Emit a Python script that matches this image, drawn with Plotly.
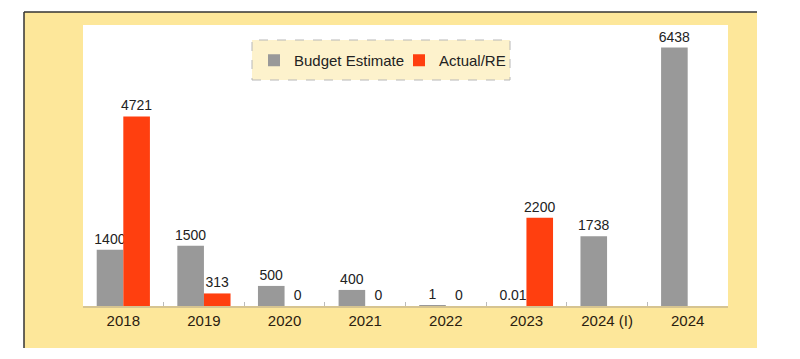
import plotly.graph_objects as go

categories = ["2018", "2019", "2020", "2021", "2022", "2023", "2024 (I)", "2024"]
budget_estimate = [1400, 1500, 500, 400, 1, 0.01, 1738, 6438]
actual_re = [4721, 313, 0, 0, 0, 2200, None, None]
budget_labels = ["1400", "1500", "500", "400", "1", "0.01", "1738", "6438"]
actual_labels = ["4721", "313", "0", "0", "0", "2200", "", ""]

# page has an 8px body margin; figure placed at (8, 8)
OFF = 8
W, H = 800 - OFF, 359 - OFF
L, R, T, B = 83 - OFF, 800 - 728, 25 - OFF, 359 - 306
pw, ph = W - L - R, H - T - B


def px(x):
    return (x - OFF - L) / pw


def py(y):
    return (H - B - (y - OFF)) / ph


fig = go.Figure()
fig.add_trace(go.Bar(
    x=categories, y=budget_estimate, name="Budget Estimate",
    marker=dict(color="#999999", line=dict(width=0)),
    text=budget_labels, textposition="outside", cliponaxis=False, constraintext="none",
    textfont=dict(size=14, color="#222222"),
))
fig.add_trace(go.Bar(
    x=categories, y=actual_re, name="Actual/RE",
    marker=dict(color="#FF3F0F", line=dict(width=0)),
    text=actual_labels, textposition="outside", cliponaxis=False, constraintext="none",
    textfont=dict(size=14, color="#222222"),
))

shapes = [
    dict(type="rect", xref="paper", yref="paper", x0=px(24), x1=px(757), y0=py(348), y1=py(12),
         fillcolor="#FDE79A", line=dict(width=0), layer="below"),
    dict(type="rect", xref="paper", yref="paper", x0=0, x1=1, y0=0, y1=py(25),
         fillcolor="#FFFFFF", line=dict(width=0), layer="below"),
    dict(type="rect", xref="paper", yref="paper", x0=px(252), x1=px(510), y0=py(80), y1=py(40),
         fillcolor="#FDF2CC", line=dict(width=1, color="#B8B8B8", dash="dash"), layer="below"),
    dict(type="line", xref="paper", yref="paper", x0=px(24), x1=px(24), y0=py(348), y1=py(12),
         line=dict(width=1.5, color="#333333"), layer="above"),
    dict(type="line", xref="paper", yref="paper", x0=px(24), x1=px(757), y0=py(12), y1=py(12),
         line=dict(width=1.5, color="#333333"), layer="above"),
]

fig.update_layout(
    width=W, height=H,
    margin=dict(l=L, r=R, t=T, b=B, pad=0),
    paper_bgcolor="#FFFFFF",
    plot_bgcolor="rgba(0,0,0,0)",
    font=dict(family="Liberation Sans, Arial, sans-serif", size=14, color="#222222"),
    barmode="group",
    bargap=0.34,
    bargroupgap=0,
    showlegend=True,
    legend=dict(orientation="h", x=px(254), y=py(44), xanchor="left", yanchor="top",
                bgcolor="rgba(0,0,0,0)", borderwidth=0, entrywidth=100, entrywidthmode="pixels",
                font=dict(size=15, color="#222222"), itemclick=False),
    shapes=shapes,
    xaxis=dict(
        showline=True, linecolor="#D6C491", linewidth=1.5,
        ticks="inside", tickson="boundaries", ticklen=4, tickcolor="#BBBBBB",
        tickfont=dict(size=15, color="#2A2010"), showgrid=False,
    ),
    yaxis=dict(range=[0, 7000], visible=False, showgrid=False, zeroline=False),
)

fig.write_html("out.html")
